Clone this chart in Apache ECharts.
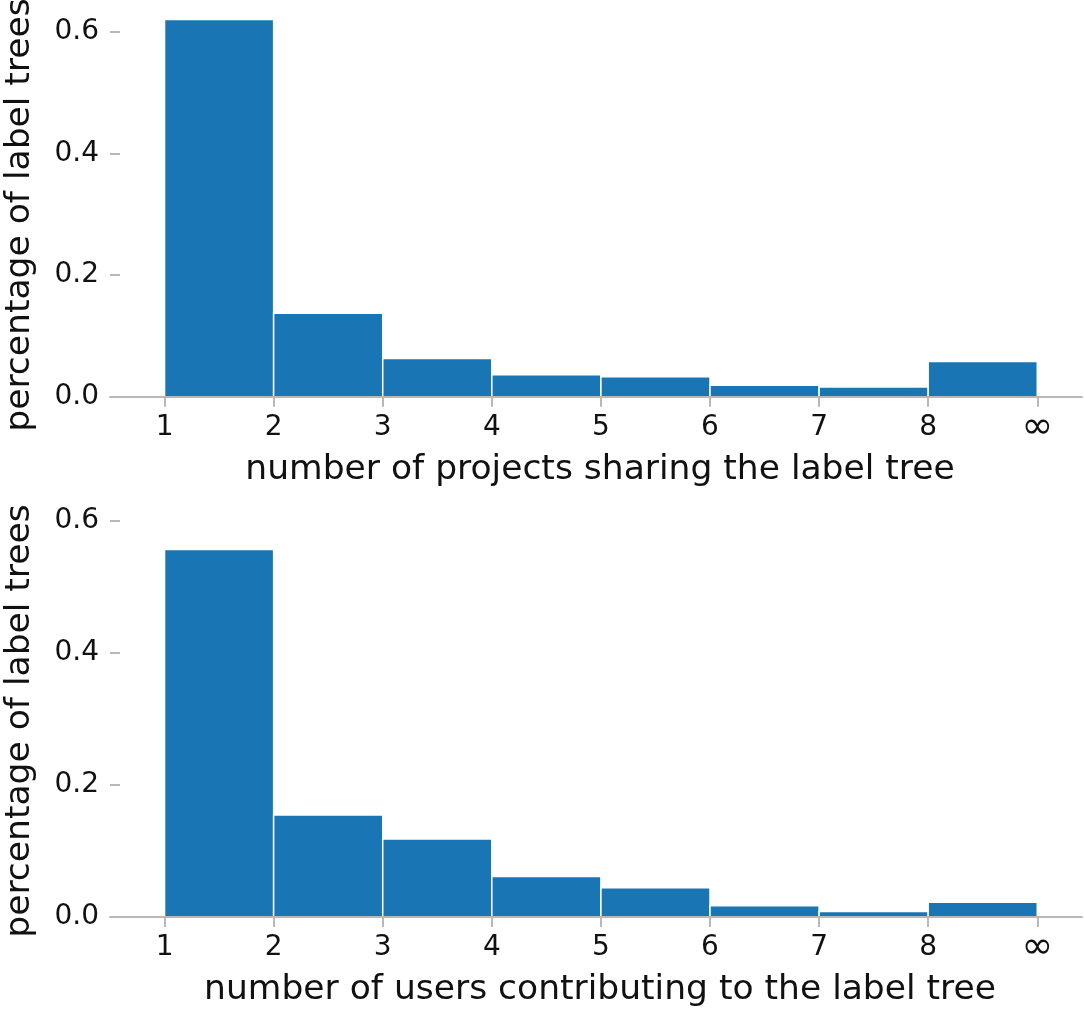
<!DOCTYPE html>
<html>
<head>
<meta charset="utf-8">
<script src="https://cdn.jsdelivr.net/npm/echarts@6/dist/echarts.min.js"></script>
<style>
  html, body { margin: 0; padding: 0; background: #fff; }
  #chart { width: 1084px; height: 1013px; }
</style>
</head>
<body>
<div id="chart"></div>
<script>
// bins: each bar runs from binStart to binEnd (last bin is "8 .. ∞")
const binStart = [1, 2, 3, 4, 5, 6, 7, 8];
const binEnd = [2, 3, 4, 5, 6, 7, 8, 9];
const tickValues = [1, 2, 3, 4, 5, 6, 7, 8, 9];
const tickLabels = ['1', '2', '3', '4', '5', '6', '7', '8', '∞'];
const yTicks = [0, 0.2, 0.4, 0.6];

// share of label trees per bin
const projectShare = [0.620, 0.137, 0.063, 0.036, 0.033, 0.019, 0.016, 0.058];
const userShare = [0.556, 0.154, 0.118, 0.061, 0.044, 0.017, 0.008, 0.022];

const yName = 'percentage of label trees';
const xNameTop = 'number of projects sharing the label tree';
const xNameBottom = 'number of users contributing to the label tree';

const chart = echarts.init(document.getElementById('chart'));

const font = 'DejaVu Sans';
const axisGrey = '#b8b8b8';
const barBlue = '#1a75b4';

function toRows(vals) {
  return vals.map((v, i) => [binStart[i], binEnd[i], v]);
}

function renderBar(params, api) {
  const a = api.coord([api.value(0), api.value(2)]);
  const b = api.coord([api.value(1), 0]);
  return {
    type: 'rect',
    shape: { x: a[0], y: a[1], width: b[0] - a[0], height: b[1] - a[1] },
    style: { fill: barBlue, stroke: '#fff', lineWidth: 1.5 }
  };
}

function xAxisOf(idx, name) {
  return {
    type: 'value',
    gridIndex: idx,
    min: 0.5,
    max: 9.41,
    z: 3,
    axisLine: { show: true, lineStyle: { color: axisGrey, width: 2 } },
    axisTick: { show: true, length: 10, lineStyle: { color: axisGrey, width: 2 }, customValues: tickValues },
    axisLabel: {
      customValues: tickValues,
      formatter: v => {
        const t = tickLabels[tickValues.indexOf(v)];
        return t === '∞' ? '{inf|∞}' : t;
      },
      color: '#111', fontFamily: font, fontSize: 28, lineHeight: 32, margin: 15,
      rich: { inf: { fontFamily: font, fontSize: 38, lineHeight: 32, color: '#111' } }
    },
    splitLine: { show: false },
    name: name,
    nameLocation: 'middle',
    nameGap: 56,
    nameTextStyle: { color: '#111', fontFamily: font, fontSize: 34.5, padding: [0, 0, 0, 8] }
  };
}

function yAxisOf(idx, max) {
  return {
    type: 'value',
    gridIndex: idx,
    min: 0,
    max: max,
    axisLine: { show: false },
    axisTick: { show: true, inside: true, length: 10, lineStyle: { color: axisGrey, width: 2 }, customValues: yTicks },
    axisLabel: {
      customValues: yTicks,
      formatter: v => v.toFixed(1),
      color: '#111', fontFamily: font, fontSize: 28, margin: 11
    },
    splitLine: { show: false }
  };
}

const option = {
  animation: false,
  grid: [
    { left: 110, right: 2, top: 1.3, bottom: 1013 - 396.7 },
    { left: 110, right: 2, top: 520.3, bottom: 1013 - 916.9 }
  ],
  xAxis: [xAxisOf(0, xNameTop), xAxisOf(1, xNameBottom)],
  yAxis: [yAxisOf(0, 0.65), yAxisOf(1, 0.6)],
  graphic: [
    {
      type: 'text', x: 20, y: 215, rotation: Math.PI / 2,
      style: { text: yName, fill: '#111', font: '34.5px "DejaVu Sans"', align: 'center', verticalAlign: 'middle' }
    },
    {
      type: 'text', x: 20, y: 721, rotation: Math.PI / 2,
      style: { text: yName, fill: '#111', font: '34.5px "DejaVu Sans"', align: 'center', verticalAlign: 'middle' }
    }
  ],
  series: [
    {
      type: 'custom', xAxisIndex: 0, yAxisIndex: 0,
      renderItem: renderBar,
      encode: { x: [0, 1], y: 2 },
      data: toRows(projectShare)
    },
    {
      type: 'custom', xAxisIndex: 1, yAxisIndex: 1,
      renderItem: renderBar,
      encode: { x: [0, 1], y: 2 },
      data: toRows(userShare)
    }
  ]
};

option && chart.setOption(option);
</script>
</body>
</html>
